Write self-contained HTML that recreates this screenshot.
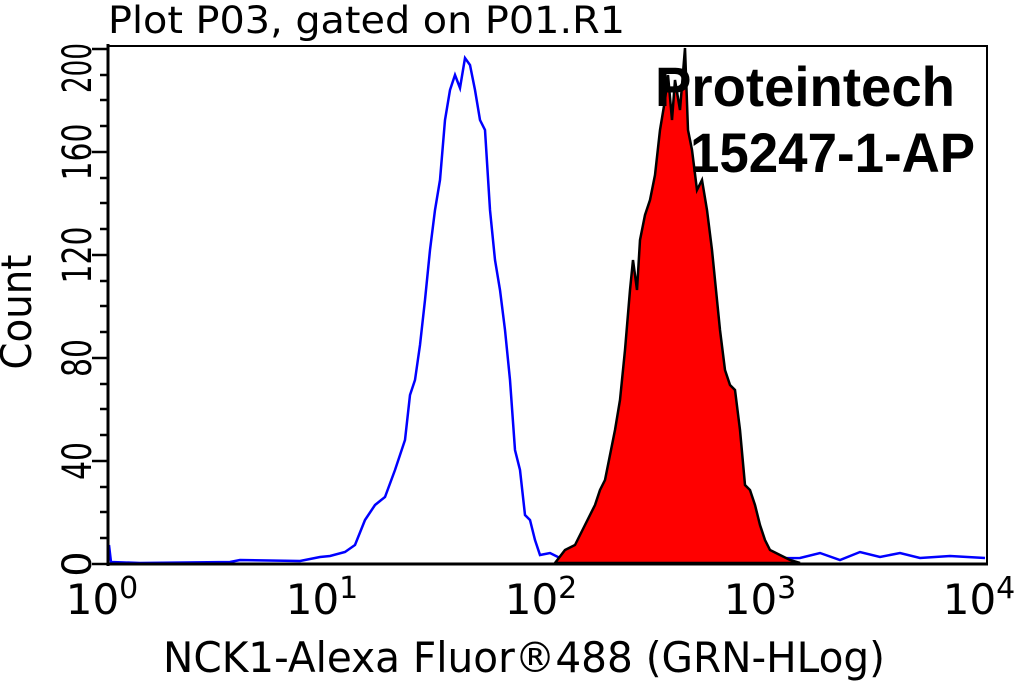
<!DOCTYPE html><html><head><style>body{margin:0;background:#fff}svg{display:block}</style></head><body>
<svg width="1016" height="682" xmlns="http://www.w3.org/2000/svg" font-family="DejaVu Sans, sans-serif">
<text x="108" y="33" font-size="37" textLength="517" lengthAdjust="spacingAndGlyphs">Plot P03, gated on P01.R1</text>
<polyline fill="none" stroke="#00f" stroke-width="2.5" points="109,545 111,562 140,563 230,562 240,560 300,561 320,557 330,556 345,552 355,545 365,520 375,505 385,497 395,470 400,455 405,440 410,395 415,380 420,345 425,300 430,250 435,210 440,180 445,120 450,90 455,75 460,88 465,58 470,65 475,90 480,120 485,130 490,210 495,260 500,290 505,330 510,380 515,450 520,470 525,515 530,520 535,540 540,555 550,553 560,558 600,560 800,558 820,553 840,560 860,552 880,557 900,553 920,558 950,556 985,558"/>
<polygon fill="#f00" stroke="#000" stroke-width="2.5" points="555,563 565,550 575,545 585,525 595,505 600,490 605,480 610,455 615,430 620,400 625,350 630,290 633,260 637,290 640,240 645,215 650,200 655,175 660,130 665,100 668,75 672,120 675,80 680,110 685,48 688,130 692,150 697,190 702,180 707,210 712,250 716,290 720,330 725,370 730,385 735,390 740,430 745,485 750,490 755,505 760,525 765,540 770,550 780,555 790,560 800,563"/>
<rect x="108" y="46" width="879" height="518" fill="none" stroke="#000" stroke-width="2"/>
<line x1="108" y1="564" x2="988" y2="564" stroke="#000" stroke-width="3"/>
<line x1="108" y1="44" x2="108" y2="566" stroke="#000" stroke-width="3"/>
<g stroke="#000" stroke-width="2.5">
<line x1="92" y1="564" x2="108" y2="564"/><line x1="92" y1="461" x2="108" y2="461"/><line x1="92" y1="358" x2="108" y2="358"/><line x1="92" y1="255" x2="108" y2="255"/><line x1="92" y1="152" x2="108" y2="152"/><line x1="92" y1="49" x2="108" y2="49"/>
<line x1="100" y1="512" x2="108" y2="512"/><line x1="100" y1="409" x2="108" y2="409"/><line x1="100" y1="306" x2="108" y2="306"/><line x1="100" y1="203" x2="108" y2="203"/><line x1="100" y1="100" x2="108" y2="100"/>
<line x1="100" y1="538" x2="108" y2="538"/><line x1="100" y1="487" x2="108" y2="487"/><line x1="100" y1="435" x2="108" y2="435"/><line x1="100" y1="384" x2="108" y2="384"/><line x1="100" y1="332" x2="108" y2="332"/><line x1="100" y1="281" x2="108" y2="281"/><line x1="100" y1="229" x2="108" y2="229"/><line x1="100" y1="178" x2="108" y2="178"/><line x1="100" y1="126" x2="108" y2="126"/><line x1="100" y1="75" x2="108" y2="75"/>
</g>
<g id="xt" stroke="#000" stroke-width="2.5"></g>
<g font-size="40" text-anchor="middle">
<text transform="translate(91,564) rotate(-90)">0</text>
<text transform="translate(91,461) rotate(-90)" textLength="38" lengthAdjust="spacingAndGlyphs">40</text>
<text transform="translate(91,358) rotate(-90)" textLength="38" lengthAdjust="spacingAndGlyphs">80</text>
<text transform="translate(91,255) rotate(-90)" textLength="57" lengthAdjust="spacingAndGlyphs">120</text>
<text transform="translate(91,152) rotate(-90)" textLength="57" lengthAdjust="spacingAndGlyphs">160</text>
<text transform="translate(91,68) rotate(-90)" textLength="50" lengthAdjust="spacingAndGlyphs">200</text>
<text transform="translate(31,312) rotate(-90)" font-size="42" textLength="115" lengthAdjust="spacingAndGlyphs">Count</text>
</g>
<g font-size="42" text-anchor="middle">
<text x="102" y="614">10<tspan font-size="30" dy="-16">0</tspan></text>
<text x="322" y="614">10<tspan font-size="30" dy="-16">1</tspan></text>
<text x="541" y="614">10<tspan font-size="30" dy="-16">2</tspan></text>
<text x="760" y="614">10<tspan font-size="30" dy="-16">3</tspan></text>
<text x="979" y="614">10<tspan font-size="30" dy="-16">4</tspan></text>
<text x="524" y="672" textLength="722" lengthAdjust="spacingAndGlyphs">NCK1-Alexa Fluor®488 (GRN-HLog)</text>
</g>
<g font-family="Liberation Sans, sans-serif" font-weight="bold" font-size="56">
<text x="655" y="106" textLength="300" lengthAdjust="spacingAndGlyphs">Proteintech</text>
<text x="690" y="172" textLength="285" lengthAdjust="spacingAndGlyphs">15247-1-AP</text>
</g>
<script>
var g=document.getElementById('xt'),s='';
for(var d=0;d<4;d++){for(var k=1;k<=10;k++){if(d<3&&k==10)continue;var x=109+219.25*(d+Math.log10(k));var L=(k==1||k==10)?16:8;s+='<line x1="'+x+'" y1="564" x2="'+x+'" y2="'+(564+L)+'"/>';}}
s+='<line x1="986" y1="564" x2="986" y2="580"/>';
g.innerHTML=s;
</script>
</svg></body></html>
